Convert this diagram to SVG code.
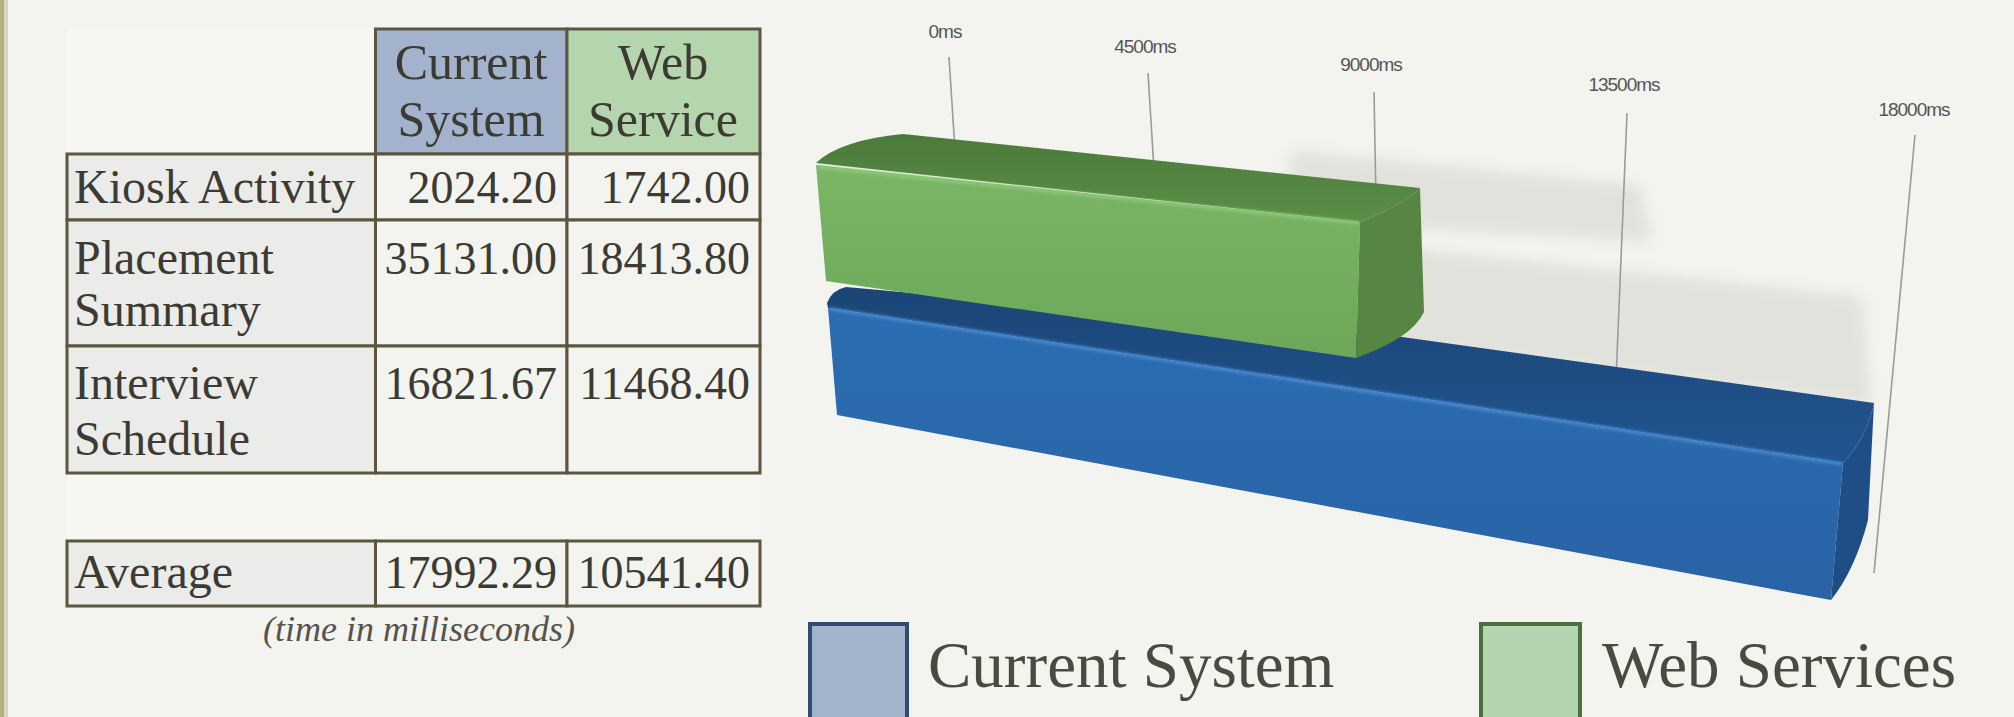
<svg xmlns="http://www.w3.org/2000/svg" width="2014" height="717" viewBox="0 0 2014 717">
<defs>
<style>
.tx{font-family:"Liberation Serif","Times New Roman",serif;fill:#3c3b33}
.hd{font-size:50px;text-anchor:middle}
.lb{font-size:48px}
.nm{font-size:46px;text-anchor:end}
.cap{font-size:36px;font-style:italic;text-anchor:middle;fill:#55544c}
.ax{font-family:"Liberation Sans",Arial,sans-serif;font-size:19px;fill:#555;text-anchor:middle;letter-spacing:-1px}
.axl{stroke:#9a9a9a;stroke-width:1.6;fill:none}
.cell{stroke:#5c5640;stroke-width:3}
.lg{font-family:"Liberation Serif","Times New Roman",serif;font-size:65px;fill:#4a4a40}
</style>
<filter id="blur" x="-20%" y="-50%" width="140%" height="200%"><feGaussianBlur stdDeviation="7"/></filter>
<filter id="soft" x="-5%" y="-20%" width="110%" height="140%"><feGaussianBlur stdDeviation="1.5"/></filter>
<linearGradient id="gFront" x1="0" y1="0" x2="0" y2="1"><stop offset="0" stop-color="#7ab666"/><stop offset="1" stop-color="#6da759"/></linearGradient>
<linearGradient id="gTop" x1="0" y1="0" x2="0" y2="1"><stop offset="0" stop-color="#4c7a3a"/><stop offset="1" stop-color="#5a8f47"/></linearGradient>
<linearGradient id="bFront" x1="0" y1="0" x2="0" y2="1"><stop offset="0" stop-color="#2b6db1"/><stop offset="1" stop-color="#2963a6"/></linearGradient>
<linearGradient id="bTop" x1="0" y1="0" x2="0" y2="1"><stop offset="0" stop-color="#1b4576"/><stop offset="1" stop-color="#215590"/></linearGradient>
</defs>
<rect width="2014" height="717" fill="#f3f3ef"/>
<rect x="0" y="0" width="4" height="717" fill="#b3ae82"/>
<rect x="4" y="0" width="4" height="717" fill="#d8d6bf"/>

<g id="table">
<rect x="67" y="28" width="308" height="126" fill="#f6f6f3"/>
<rect x="67" y="473" width="308" height="67" fill="#f6f6f3"/>
<rect x="375" y="473" width="192" height="67" fill="#f5f5f1"/>
<rect x="567" y="473" width="193" height="67" fill="#f5f5f1"/>
<g id="hdr-current"><rect class="cell" x="375.5" y="29" width="191.5" height="125" fill="#a3b3cd"/>
<text class="tx hd" x="471" y="79">Current</text><text class="tx hd" x="471" y="136">System</text></g>
<g id="hdr-web"><rect class="cell" x="567" y="29" width="193" height="125" fill="#b4d5ae"/>
<text class="tx hd" x="663" y="79">Web</text><text class="tx hd" x="663" y="136">Service</text></g>
<g id="row-kiosk">
<rect class="cell" x="67" y="154" width="308.5" height="66" fill="#ebebea"/>
<rect class="cell" x="375.5" y="154" width="191.5" height="66" fill="#f3f3ef"/>
<rect class="cell" x="567" y="154" width="193" height="66" fill="#f3f3ef"/>
<text class="tx lb" x="74" y="203">Kiosk Activity</text>
<text class="tx nm" x="557" y="203">2024.20</text><text class="tx nm" x="750" y="203">1742.00</text></g>
<g id="row-placement">
<rect class="cell" x="67" y="220" width="308.5" height="126" fill="#ebebea"/>
<rect class="cell" x="375.5" y="220" width="191.5" height="126" fill="#f3f3ef"/>
<rect class="cell" x="567" y="220" width="193" height="126" fill="#f3f3ef"/>
<text class="tx lb" x="74" y="274">Placement</text><text class="tx lb" x="74" y="326">Summary</text>
<text class="tx nm" x="557" y="274">35131.00</text><text class="tx nm" x="750" y="274">18413.80</text></g>
<g id="row-interview">
<rect class="cell" x="67" y="346" width="308.5" height="127" fill="#ebebea"/>
<rect class="cell" x="375.5" y="346" width="191.5" height="127" fill="#f3f3ef"/>
<rect class="cell" x="567" y="346" width="193" height="127" fill="#f3f3ef"/>
<text class="tx lb" x="74" y="399">Interview</text><text class="tx lb" x="74" y="455">Schedule</text>
<text class="tx nm" x="557" y="399">16821.67</text><text class="tx nm" x="750" y="399">11468.40</text></g>
<g id="row-average">
<rect class="cell" x="67" y="541" width="308.5" height="65" fill="#ebebea"/>
<rect class="cell" x="375.5" y="541" width="191.5" height="65" fill="#f3f3ef"/>
<rect class="cell" x="567" y="541" width="193" height="65" fill="#f3f3ef"/>
<text class="tx lb" x="74" y="588">Average</text>
<text class="tx nm" x="557" y="588">17992.29</text><text class="tx nm" x="750" y="588">10541.40</text></g>
<text class="tx cap" x="419" y="641">(time in milliseconds)</text>
</g>

<g id="chart">
<g id="shadows" filter="url(#blur)" fill="#e2e2dd">
<polygon points="1290,150 1640,185 1652,242 1290,222"/>
<polygon points="1380,245 1862,296 1872,405 1380,345"/>
</g>
<g id="axis">
<line class="axl" x1="949" y1="57" x2="955" y2="150"/>
<line class="axl" x1="1148" y1="73" x2="1154" y2="170"/>
<line class="axl" x1="1374" y1="92" x2="1376" y2="200"/>
<line class="axl" x1="1627" y1="113" x2="1616" y2="380"/>
<line class="axl" x1="1915" y1="135" x2="1874" y2="573"/>
<text class="ax" x="945" y="38">0ms</text>
<text class="ax" x="1145" y="53">4500ms</text>
<text class="ax" x="1371" y="71">9000ms</text>
<text class="ax" x="1624" y="91">13500ms</text>
<text class="ax" x="1914" y="116">18000ms</text>
</g>
<g id="bar-current">
<path d="M827,303 Q832,290 846,287 L1402,337 L1874,403 Q1868,436 1843,463 L828,308 Z" fill="url(#bTop)"/>
<path d="M828,308 L1843,463 L1831,600 L837,415 Z" fill="url(#bFront)"/>
<path d="M1843,463 Q1868,436 1874,403 L1868,520 Q1855,570 1831,600 Z" fill="#1f4e86"/>
<line x1="830" y1="309" x2="1842" y2="464" stroke="#4a8bd2" stroke-width="3" filter="url(#soft)"/>
</g>
<g id="bar-web">
<path d="M816,163 Q840,140 903,134 L1420,188 Q1405,204 1360,222 Z" fill="url(#gTop)"/>
<path d="M816,165 L1360,222 L1356,358 L826,281 Z" fill="url(#gFront)"/>
<path d="M1360,222 Q1405,204 1420,188 L1424,312 Q1412,338 1356,358 Z" fill="#568641"/>
<line x1="818" y1="167" x2="1359" y2="223" stroke="#8ecb7a" stroke-width="3" filter="url(#soft)"/>
</g>
</g>

<g id="legend">
<g id="legend-current"><rect x="810" y="624" width="97" height="120" fill="#a3b3cc" stroke="#2f4d72" stroke-width="4"/>
<text class="lg" x="928" y="687">Current System</text></g>
<g id="legend-web"><rect x="1481" y="624" width="99" height="120" fill="#b3d4ae" stroke="#4a7040" stroke-width="4"/>
<text class="lg" x="1602" y="687">Web Services</text></g>
</g>
</svg>
